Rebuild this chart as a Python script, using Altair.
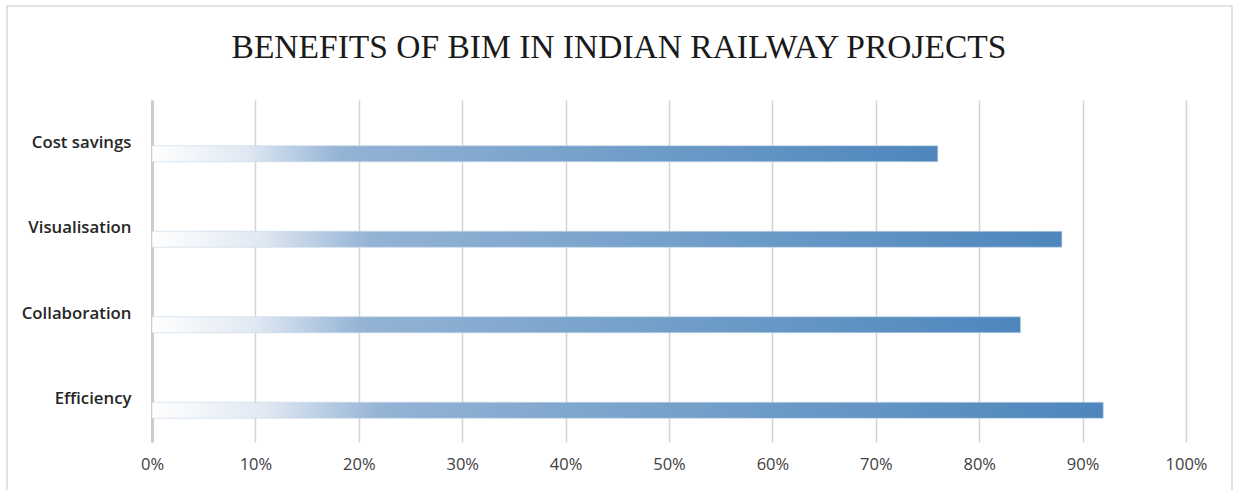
import altair as alt
import pandas as pd

categories = ["Cost savings", "Visualisation", "Collaboration", "Efficiency"]
values = [0.76, 0.88, 0.84, 0.92]
tick_values = [0, 0.1, 0.2, 0.3, 0.4, 0.5, 0.6, 0.7, 0.8, 0.9, 1.0]
title_text = "BENEFITS OF BIM IN INDIAN RAILWAY PROJECTS"

df = pd.DataFrame({"benefit": categories, "share": values})

W, H = 1034, 342

gradient = alt.Gradient(
    gradient="linear",
    stops=[
        alt.GradientStop(color="#ffffff", offset=0),
        alt.GradientStop(color="#e0e8f2", offset=0.12),
        alt.GradientStop(color="#94b3d5", offset=0.24),
        alt.GradientStop(color="#7aa4cc", offset=0.5),
        alt.GradientStop(color="#4e86bd", offset=1),
    ],
    x1=0, x2=1, y1=0, y2=0,
)

frame = alt.Chart(pd.DataFrame({"a": [0]})).mark_rect(
    fill=None, stroke="#d9d9d9", strokeWidth=1.5
).encode(
    x=alt.value(-145), x2=alt.value(1080),
    y=alt.value(-94), y2=alt.value(400),
)

bars = alt.Chart(df).mark_bar(
    fill=gradient, size=16, yOffset=11, stroke="#c5d6e8", strokeWidth=0.6
).encode(
    x=alt.X(
        "share:Q",
        scale=alt.Scale(domain=[0, 1], nice=False),
        axis=alt.Axis(
            values=tick_values, format=".0%", title=None,
            grid=True, gridColor="#d4d4d4", gridWidth=1.5,
            domain=False, ticks=False, labelFlush=False,
            labelFont="Open Sans", labelFontSize=16.5, labelColor="#404040",
            labelPadding=14,
        ),
    ),
    y=alt.Y(
        "benefit:N",
        sort=categories,
        scale=alt.Scale(paddingInner=0, paddingOuter=0),
        axis=alt.Axis(
            title=None, ticks=False, grid=False,
            domain=True, domainColor="#cccccc", domainWidth=3,
            labelFont="Open Sans", labelFontSize=16.8, labelFontWeight=600,
            labelColor="#262626", labelPadding=21,
        ),
    ),
)

chart = alt.layer(frame, bars).properties(
    width=W, height=H,
    title=alt.Title(
        title_text, font="Liberation Serif", fontSize=33.5, fontWeight="normal",
        color="#1a1a1a", anchor="middle", dx=-50, offset=-60,
    ),
    padding={"left": 152, "top": 100, "right": 47, "bottom": 48},
    autosize=alt.AutoSizeParams(type="none"),
    background="white",
).configure_view(stroke=None, strokeWidth=0)

chart.save("out.html", embed_options={"renderer": "svg", "actions": False})
